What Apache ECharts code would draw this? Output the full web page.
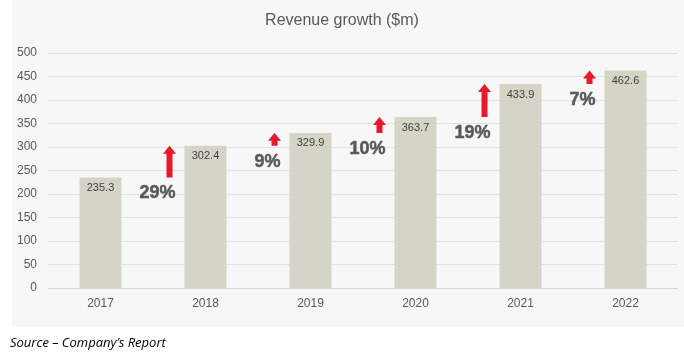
<!DOCTYPE html>
<html>
<head>
<meta charset="utf-8">
<script src="https://cdn.jsdelivr.net/npm/echarts@6/dist/echarts.min.js"></script>
<style>
  html, body { margin: 0; padding: 0; background: #fff; }
  #panel { position: absolute; left: 12px; top: 0; width: 672px; height: 327px; background: #f7f7f7; }
  #chart { position: absolute; left: 0; top: 0; width: 684px; height: 354px; }
</style>
</head>
<body>
<div id="panel"></div>
<div id="chart"></div>
<script>
  // revenue by year ($m)
  const years = ['2017', '2018', '2019', '2020', '2021', '2022']
  const revenue = [235.3, 302.4, 329.9, 363.7, 433.9, 462.6]
  const growth = ['', '29%', '9%', '10%', '19%', '7%']
  const yTicks = [0, 50, 100, 150, 200, 250, 300, 350, 400, 450, 500]

  // arrow from previous year's value to this year's value
  const arrowData = []
  for (let i = 1; i < years.length; i++) {
    arrowData.push([i, revenue[i - 1], revenue[i], growth[i]])
  }

  const myChart = echarts.init(document.getElementById('chart'))
  const option = {
    backgroundColor: 'transparent',
    title: {
      text: 'Revenue growth ($m)',
      left: 'center',
      top: 8,
      textStyle: { fontFamily: 'Liberation Sans', fontSize: 16, fontWeight: 'normal', color: '#595959' }
    },
    grid: { left: 48, right: 6, top: 53, bottom: 66 },
    xAxis: {
      type: 'category',
      data: years,
      axisLine: { lineStyle: { color: '#d9d9d9' } },
      axisTick: { show: false },
      axisLabel: { fontFamily: 'Liberation Sans', fontSize: 12, color: '#595959', margin: 10 }
    },
    yAxis: {
      type: 'value',
      min: yTicks[0],
      max: yTicks[yTicks.length - 1],
      interval: 50,
      axisLine: { show: false },
      axisTick: { show: false },
      splitLine: { lineStyle: { color: '#e2e2e2' } },
      axisLabel: { fontFamily: 'Liberation Sans', fontSize: 12, color: '#595959', margin: 11 }
    },
    series: [
      {
        type: 'bar',
        data: revenue,
        barWidth: 42,
        itemStyle: { color: '#d6d4c7' },
        label: {
          show: true,
          position: 'insideTop',
          distance: 5,
          fontFamily: 'Liberation Sans',
          fontSize: 11,
          color: '#404040'
        }
      },
      {
        type: 'custom',
        data: arrowData,
        z: 5,
        renderItem: function (params, api) {
          const top = api.coord([api.value(0), api.value(2)])
          const bot = api.coord([api.value(0), api.value(1)])
          const x = top[0] - 36
          const yT = top[1]
          const yB = bot[1]
          const hh = Math.min(8, (yB - yT) * 0.6)
          return {
            type: 'group',
            children: [
              {
                type: 'polygon',
                shape: {
                  points: [
                    [x, yT], [x + 6.5, yT + hh], [x + 3, yT + hh], [x + 3, yB],
                    [x - 3, yB], [x - 3, yT + hh], [x - 6.5, yT + hh]
                  ]
                },
                style: { fill: '#e8192c' }
              },
              {
                type: 'text',
                x: x + 6,
                y: yB + 16,
                style: {
                  text: arrowData[params.dataIndex][3],
                  align: 'right',
                  verticalAlign: 'middle',
                  fontFamily: 'Liberation Sans',
                  fontSize: 18,
                  fontWeight: 900,
                  fill: '#595959',
                  stroke: '#595959',
                  lineWidth: 0.5
                }
              }
            ]
          }
        }
      }
    ],
    graphic: [
      {
        type: 'text',
        left: 10,
        top: 337,
        style: {
          text: 'Source – Company’s Report',
          fontFamily: 'Open Sans',
          fontStyle: 'italic',
          fontSize: 13,
          fill: '#000'
        }
      }
    ]
  }
  myChart.setOption(option)
</script>
</body>
</html>
